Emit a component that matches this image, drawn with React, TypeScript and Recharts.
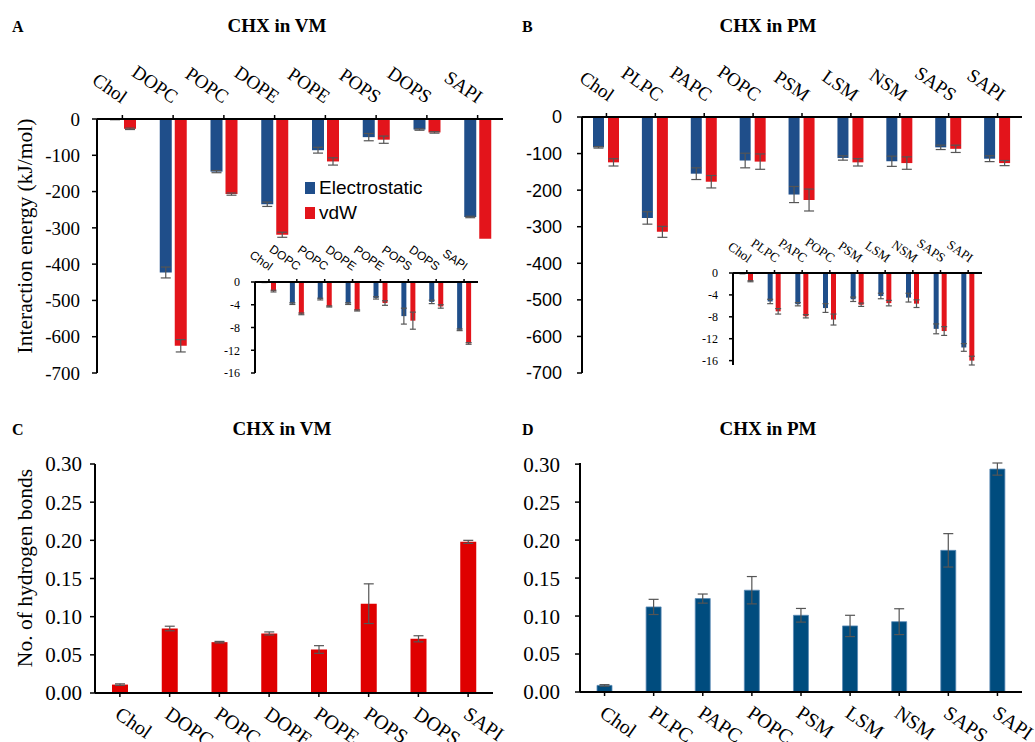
import { BarChart, Bar, XAxis, YAxis, ErrorBar, Legend } from "recharts"

const serif = "'Liberation Serif', 'Times New Roman', serif"
const sans = "'Liberation Sans', Arial, sans-serif"

const blue = "#1f4e8a"
const red = "#e3141b"
const hbRed = "#df0000"
const hbBlue = "#004c7e"

// lipids
const vmLipids = ["Chol", "DOPC", "POPC", "DOPE", "POPE", "POPS", "DOPS", "SAPI"]
const pmLipids = ["Chol", "PLPC", "PAPC", "POPC", "PSM", "LSM", "NSM", "SAPS", "SAPI"]

// A: interaction energy, VM
const vmElec = [-1, -423, -145, -235, -86, -50, -29, -270]
const vmElecErr = [1, 15, 3, 6, 8, 10, 2, 2]
const vmVdw = [-27, -625, -207, -319, -117, -57, -37, -330]
const vmVdwErr = [2, 17, 3, 7, 10, 10, 2, 0]

// A inset
const vmElecIn = [-0.05, -3.8, -3.0, -3.8, -2.8, -6.0, -3.5, -8.4]
const vmElecInErr = [0.05, 0.15, 0.15, 0.15, 0.2, 1.4, 0.3, 0.15]
const vmVdwIn = [-1.6, -5.6, -4.3, -5.0, -3.7, -6.8, -4.3, -10.8]
const vmVdwInErr = [0.15, 0.15, 0.1, 0.1, 0.4, 1.5, 0.3, 0.15]

// B: interaction energy, PM
const pmElec = [-83, -276, -155, -119, -212, -112, -121, -83, -114]
const pmElecErr = [2, 17, 16, 20, 22, 6, 14, 6, 8]
const pmVdw = [-124, -314, -177, -122, -227, -124, -126, -87, -126]
const pmVdwErr = [10, 15, 17, 21, 30, 10, 17, 10, 7]

// B inset
const pmElecIn = [-0.1, -5.2, -5.7, -6.4, -4.8, -4.2, -4.5, -10.2, -13.6]
const pmElecInErr = [0.05, 0.4, 0.3, 0.8, 0.4, 0.5, 0.8, 0.9, 0.7]
const pmVdwIn = [-1.5, -7.0, -7.9, -8.5, -5.8, -5.5, -5.6, -10.6, -16.0]
const pmVdwInErr = [0.1, 0.5, 0.3, 1.0, 0.3, 0.5, 0.7, 0.8, 0.8]

// C, D: hydrogen bonds
const vmHb = [0.011, 0.0845, 0.0666, 0.078, 0.057, 0.117, 0.071, 0.198]
const vmHbErr = [0.001, 0.003, 0.001, 0.002, 0.005, 0.026, 0.004, 0.002]
const pmHb = [0.0087, 0.112, 0.123, 0.134, 0.101, 0.087, 0.0926, 0.1865, 0.2935]
const pmHbErr = [0.001, 0.01, 0.006, 0.018, 0.009, 0.014, 0.017, 0.022, 0.008]

const energyTicks = [0, -100, -200, -300, -400, -500, -600, -700]
const insetTicks = [0, -4, -8, -12, -16]
const hbTicks = [0, 0.05, 0.1, 0.15, 0.2, 0.25, 0.3]

const pairRows = (names: string[], e: number[], eErr: number[], v: number[], vErr: number[]) =>
  names.map((name, i) => ({ name, elec: e[i], elecErr: eErr[i], vdw: v[i], vdwErr: vErr[i] }))

const singleRows = (names: string[], hb: number[], err: number[]) =>
  names.map((name, i) => ({ name, hb: hb[i], err: err[i] }))

const vmData = pairRows(vmLipids, vmElec, vmElecErr, vmVdw, vmVdwErr)
const vmInData = pairRows(vmLipids, vmElecIn, vmElecInErr, vmVdwIn, vmVdwInErr)
const pmData = pairRows(pmLipids, pmElec, pmElecErr, pmVdw, pmVdwErr)
const pmInData = pairRows(pmLipids, pmElecIn, pmElecInErr, pmVdwIn, pmVdwInErr)
const vmHbData = singleRows(vmLipids, vmHb, vmHbErr)
const pmHbData = singleRows(pmLipids, pmHb, pmHbErr)

// slanted category label; top axes end at the tick, bottom axes start there
function SlantTick(props: any) {
  const { x, y, payload, top, size, family, dx = 0, dy = 0 } = props
  const tx = x + dx
  const ty = y + dy
  return (
    <text
      x={tx}
      y={ty}
      fontSize={size}
      fontFamily={family}
      fill="#000"
      textAnchor={top ? "end" : "start"}
      transform={`rotate(35 ${tx} ${ty})`}
    >
      {payload.value}
    </text>
  )
}

const axisLine = { stroke: "#000", strokeWidth: 2 }
const tickLine = { stroke: "#000", strokeWidth: 1.5 }
const errProps = { stroke: "#555", strokeWidth: 1.2 }

function LegendBox({ payload }: any) {
  return (
    <div style={{ fontFamily: sans, fontSize: 19, lineHeight: "25px", color: "#000" }}>
      {(payload || []).map((p: any) => (
        <div key={p.value} style={{ display: "flex", alignItems: "center" }}>
          <span style={{ width: 10, height: 12, background: p.color, marginRight: 4, display: "inline-block" }} />
          {p.value}
        </div>
      ))}
    </div>
  )
}

function Titles() {
  const letter = { fontFamily: serif, fontWeight: 700, fontSize: 16 }
  const title = { fontFamily: serif, fontWeight: 700, fontSize: 19 }
  return (
    <svg width={1035} height={742} style={{ position: "absolute", left: 0, top: 0 }}>
      <text x={12} y={32} {...letter}>A</text>
      <text x={277} y={32} textAnchor="middle" {...title}>CHX in VM</text>
      <text x={522} y={32} {...letter}>B</text>
      <text x={768} y={32} textAnchor="middle" {...title}>CHX in PM</text>
      <text x={12} y={435} {...letter}>C</text>
      <text x={282} y={435} textAnchor="middle" {...title}>CHX in VM</text>
      <text x={522} y={435} {...letter}>D</text>
      <text x={768} y={435} textAnchor="middle" {...title}>CHX in PM</text>
      <text transform="translate(32 236) rotate(-90)" textAnchor="middle" fontFamily={serif} fontSize={21.5}>
        Interaction energy (kJ/mol)
      </text>
      <text transform="translate(32 568) rotate(-90)" textAnchor="middle" fontFamily={serif} fontSize={21.5}>
        No. of hydrogen bonds
      </text>
    </svg>
  )
}

export default function App() {
  return (
    <div style={{ position: "fixed", left: 0, top: 0, width: 1035, height: 742, background: "#fff", overflow: "hidden" }}>
      <Titles />

      {/* A */}
      <div style={{ position: "absolute", left: 0, top: 0 }}>
        <BarChart width={515} height={390} data={vmData} margin={{ top: 89, left: 37, right: 12, bottom: 17 }} barSize={12} barGap={3}>
          <XAxis dataKey="name" orientation="top" height={30} interval={0} axisLine={axisLine} tickLine={tickLine} tickSize={4}
            tick={(p: any) => <SlantTick {...p} top size={19} family={serif} dx={-1} dy={-9} />} />
          <YAxis width={60} domain={[-700, 0]} ticks={energyTicks} interval={0} axisLine={axisLine} tickLine={tickLine} tickSize={5} tickMargin={12}
            tick={{ fontSize: 19, fontFamily: serif, fill: "#000" }} />
          <Legend layout="vertical" align="center" verticalAlign="middle" wrapperStyle={{ left: 305, top: 175, width: 160 }} content={LegendBox} />
          <Bar dataKey="elec" name="Electrostatic" fill={blue} isAnimationActive={false}>
            <ErrorBar dataKey="elecErr" width={5} direction="y" {...errProps} />
          </Bar>
          <Bar dataKey="vdw" name="vdW" fill={red} isAnimationActive={false}>
            <ErrorBar dataKey="vdwErr" width={5} direction="y" {...errProps} />
          </Bar>
        </BarChart>
      </div>

      {/* A inset */}
      <div style={{ position: "absolute", left: 200, top: 230 }}>
        <BarChart width={300} height={150} data={vmInData} margin={{ top: 32, left: 25, right: 22, bottom: 7 }} barSize={5} barGap={4}>
          <XAxis dataKey="name" orientation="top" height={20} interval={0} axisLine={axisLine} tickLine={tickLine} tickSize={3}
            tick={(p: any) => <SlantTick {...p} top size={12} family={sans} dx={0} dy={-6} />} />
          <YAxis width={30} domain={[-16, 0]} ticks={insetTicks} interval={0} axisLine={axisLine} tickLine={tickLine} tickSize={4} tickMargin={11}
            tick={{ fontSize: 12, fontFamily: serif, fill: "#000" }} />
          <Bar dataKey="elec" fill={blue} isAnimationActive={false}>
            <ErrorBar dataKey="elecErr" width={3} direction="y" {...errProps} />
          </Bar>
          <Bar dataKey="vdw" fill={red} isAnimationActive={false}>
            <ErrorBar dataKey="vdwErr" width={3} direction="y" {...errProps} />
          </Bar>
        </BarChart>
      </div>

      {/* B */}
      <div style={{ position: "absolute", left: 515, top: 0 }}>
        <BarChart width={520} height={390} data={pmData} margin={{ top: 87, left: 12, right: 13, bottom: 17 }} barSize={11} barGap={4}>
          <XAxis dataKey="name" orientation="top" height={30} interval={0} axisLine={axisLine} tickLine={tickLine} tickSize={4}
            tick={(p: any) => <SlantTick {...p} top size={19} family={serif} dx={2} dy={-9} />} />
          <YAxis width={55} domain={[-700, 0]} ticks={energyTicks} interval={0} axisLine={axisLine} tickLine={tickLine} tickSize={5} tickMargin={15}
            tick={{ fontSize: 18, fontFamily: sans, fill: "#000" }} />
          <Bar dataKey="elec" fill={blue} isAnimationActive={false}>
            <ErrorBar dataKey="elecErr" width={5} direction="y" {...errProps} />
          </Bar>
          <Bar dataKey="vdw" fill={red} isAnimationActive={false}>
            <ErrorBar dataKey="vdwErr" width={5} direction="y" {...errProps} />
          </Bar>
        </BarChart>
      </div>

      {/* B inset */}
      <div style={{ position: "absolute", left: 700, top: 230 }}>
        <BarChart width={320} height={150} data={pmInData} margin={{ top: 23, left: 3, right: 38, bottom: 15 }} barSize={5} barGap={3}>
          <XAxis dataKey="name" orientation="top" height={20} interval={0} axisLine={axisLine} tickLine={tickLine} tickSize={3}
            tick={(p: any) => <SlantTick {...p} top size={13} family={serif} dx={1} dy={-5} />} />
          <YAxis width={30} domain={[-16, 0]} ticks={insetTicks} interval={0} axisLine={axisLine} tickLine={tickLine} tickSize={4} tickMargin={11}
            tick={{ fontSize: 12, fontFamily: serif, fill: "#000" }} />
          <Bar dataKey="elec" fill={blue} isAnimationActive={false}>
            <ErrorBar dataKey="elecErr" width={3} direction="y" {...errProps} />
          </Bar>
          <Bar dataKey="vdw" fill={red} isAnimationActive={false}>
            <ErrorBar dataKey="vdwErr" width={3} direction="y" {...errProps} />
          </Bar>
        </BarChart>
      </div>

      {/* C */}
      <div style={{ position: "absolute", left: 0, top: 390 }}>
        <BarChart width={515} height={352} data={vmHbData} margin={{ top: 74, left: 35, right: 22, bottom: 9 }} barSize={16}>
          <XAxis dataKey="name" height={40} interval={0} axisLine={axisLine} tickLine={tickLine} tickSize={4}
            tick={(p: any) => <SlantTick {...p} size={20} family={serif} dx={-6} dy={18} />} />
          <YAxis width={60} domain={[0, 0.3]} ticks={hbTicks} interval={0} axisLine={axisLine} tickLine={tickLine} tickSize={5} tickMargin={8}
            tickFormatter={(v: number) => v.toFixed(2)} tick={{ fontSize: 21, fontFamily: serif, fill: "#000" }} />
          <Bar dataKey="hb" fill={hbRed} isAnimationActive={false}>
            <ErrorBar dataKey="err" width={5} direction="y" {...errProps} />
          </Bar>
        </BarChart>
      </div>

      {/* D */}
      <div style={{ position: "absolute", left: 515, top: 390 }}>
        <BarChart width={520} height={352} data={pmHbData} margin={{ top: 73, left: 10, right: 13, bottom: 10 }} barSize={15}>
          <XAxis dataKey="name" height={40} interval={0} axisLine={axisLine} tickLine={tickLine} tickSize={4}
            tick={(p: any) => <SlantTick {...p} size={20} family={serif} dx={-6} dy={18} />} />
          <YAxis width={55} domain={[0, 0.3]} ticks={hbTicks} interval={0} axisLine={axisLine} tickLine={tickLine} tickSize={5} tickMargin={15}
            tickFormatter={(v: number) => v.toFixed(2)} tick={{ fontSize: 21, fontFamily: serif, fill: "#000" }} />
          <Bar dataKey="hb" fill={hbBlue} stroke="#5a8ab5" strokeWidth={0.8} isAnimationActive={false}>
            <ErrorBar dataKey="err" width={5} direction="y" {...errProps} />
          </Bar>
        </BarChart>
      </div>
    </div>
  )
}
